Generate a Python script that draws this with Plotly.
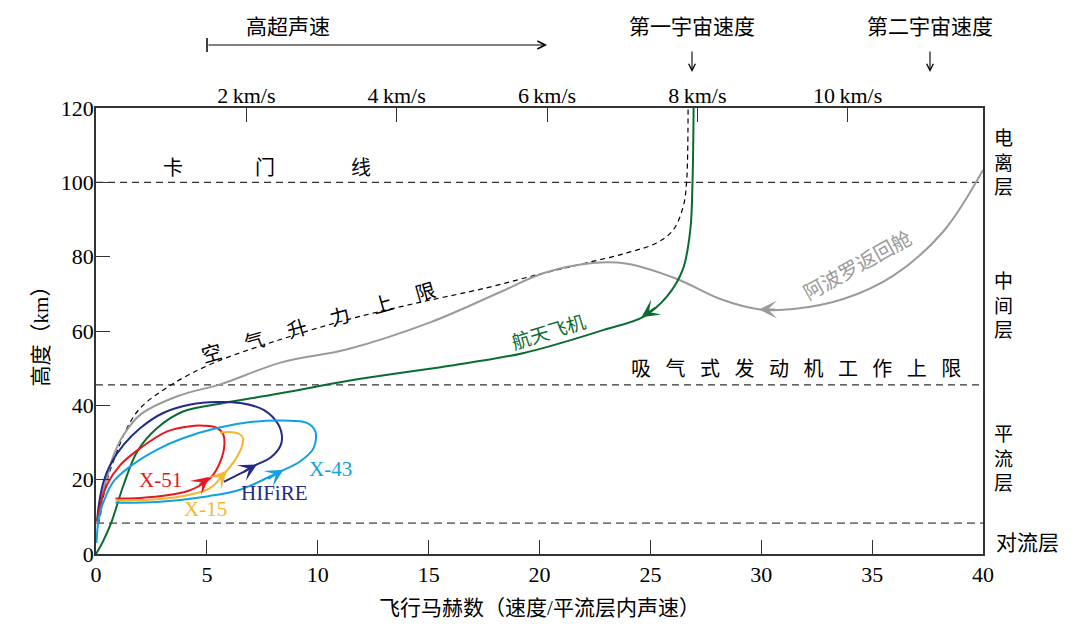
import plotly.graph_objects as go

# ---- values (x: flight Mach number, y: altitude km) ----
SOUND_SPEED = 0.295          # km/s, speed of sound in the stratosphere
top_ticks_kms = [2, 4, 6, 8, 10]

layer_alts = [100, 45.5, 8.3]   # Karman line, air-breathing limit, tropopause

shuttle_mach = [0, 0.3, 0.68, 1.25, 1.86, 2.76, 3.95, 5.76, 8.0, 12.0, 15.8, 19.3,
                22.9, 24.7, 25.75, 26.46, 26.8, 26.9, 26.95]
shuttle_alt = [0, 3.2, 8.3, 18.7, 27.6, 33.9, 38.4, 40.6, 42.9, 47.2, 50.5, 54.1,
               60.3, 63.9, 69.3, 76.5, 87.2, 100, 120]

apollo_mach = [0.05, 0.2, 0.58, 0.8, 1.25, 2.0, 3.7, 5.63, 8.33, 11.34, 15.1, 18.24,
               20.2, 22.4, 23.95, 26.2, 28.15, 29.95, 31.45, 33.7, 35.96, 38.2, 40]
apollo_alt = [8, 14, 22.3, 26.7, 32.1, 37.5, 42.5, 45.7, 51.5, 55.1, 62.4, 70.5,
              75.6, 78.3, 78.1, 74, 68.6, 65.8, 65.9, 68.6, 74.9, 86.7, 103.3]

lift_mach = [0.1, 0.2, 0.35, 0.58, 0.95, 1.4, 2.0, 3.36, 5.3, 8.31, 11.3, 14.3, 17.6,
             20.2, 22.1, 23.93, 25.28, 26.03, 26.48, 26.63, 26.7]
lift_alt = [8, 10.6, 16, 21.4, 27.6, 33.9, 39.3, 45.4, 51.4, 57.7, 63, 67.3, 71.6,
            75.6, 78.3, 81, 83.7, 87.2, 93.5, 99.8, 120]

x51_mach = [0.88, 2.0, 3.21, 4.11, 4.71, 5.23, 5.61, 5.79, 5.73, 5.46, 4.86, 4.26,
            3.21, 2.0, 1.1, 0.5, 0.2, 0.05]
x51_alt = [14.9, 15.1, 15.8, 16.9, 18.5, 20.9, 24.9, 29.4, 32.3, 33.9, 34.5, 34.4,
           33.0, 28.5, 24.0, 18.7, 13.3, 8.8]

x15_mach = [0.88, 2.76, 4.26, 5.16, 5.68, 6.28, 6.58, 6.63, 6.43, 6.06, 5.61]
x15_alt = [14.4, 14.7, 16.0, 17.8, 20.9, 25.4, 29.0, 31.2, 32.4, 32.8, 32.7]

hifire_mach = [5.76, 6.5, 7.26, 7.86, 8.31, 8.39, 8.23, 7.56, 6.51, 5.46, 4.26, 3.05,
               2.0, 1.25, 0.65, 0.35, 0.13, 0.05]
hifire_alt = [19.4, 21.6, 24.1, 25.9, 29.0, 31.2, 34.8, 38.8, 40.6, 40.9, 40.2, 38.0,
              33.9, 29.4, 24.1, 19.6, 13.3, 8.8]

x43_mach = [0.88, 2.76, 5.0, 6.5, 8.16, 9.2, 9.81, 9.89, 9.51, 8.46, 6.96, 5.46,
            3.95, 2.76, 1.55, 0.8, 0.35, 0.13, 0.02]
x43_alt = [13.8, 14.0, 15.5, 17.3, 21.8, 24.9, 28.5, 33, 35.3, 35.9, 35.5, 33.9,
           31.2, 28.1, 23.6, 19.6, 14.2, 9.7, 3]

# arrowheads: (curve, tip mach, tip alt, tail mach, tail alt)
arrow_marks = [
    ("shuttle", 24.6, 63.7, 25.3, 66.6),
    ("apollo", 29.9, 65.8, 30.7, 65.8),
    ("x51", 5.12, 20.8, 4.6, 18.3),
    ("x15", 5.9, 22.4, 5.5, 19.9),
    ("hifire", 7.26, 24.1, 6.6, 21.9),
    ("x43", 8.46, 22.7, 7.7, 20.0),
]

RED, ORANGE, NAVY, LBLUE = "#e6171e", "#f6b62d", "#232a88", "#12a0e2"
GREEN, GRAY = "#0b6b30", "#9a9a9a"
colors = {"shuttle": GREEN, "apollo": GRAY, "x51": RED, "x15": ORANGE,
          "hifire": NAVY, "x43": LBLUE}

SERIF = "Liberation Serif, Noto Sans CJK SC"
CJK = "Noto Sans CJK SC"

W, H = 1080, 638
ML, MR, MT, MB = 96, 97, 108, 84
PW, PH = W - ML - MR, H - MT - MB


def pxx(p):
    return (p - ML) / PW


def pxy(p):
    return (H - MB - p) / PH


fig = go.Figure()

fig.add_trace(go.Scatter(x=lift_mach, y=lift_alt, mode="lines", line_shape="spline",
                         line=dict(color="black", width=1.2, dash="5px,4px")))
fig.add_trace(go.Scatter(x=apollo_mach, y=apollo_alt, mode="lines", line_shape="spline",
                         line=dict(color=GRAY, width=2)))
fig.add_trace(go.Scatter(x=shuttle_mach, y=shuttle_alt, mode="lines", line_shape="spline",
                         line=dict(color=GREEN, width=2)))
for mx, al, key in [(hifire_mach, hifire_alt, "hifire"), (x51_mach, x51_alt, "x51"),
                    (x15_mach, x15_alt, "x15"), (x43_mach, x43_alt, "x43")]:
    fig.add_trace(go.Scatter(x=mx, y=al, mode="lines", line_shape="spline",
                             line=dict(color=colors[key], width=2)))
# dummy trace so the km/s axis is drawn
fig.add_trace(go.Scatter(x=[], y=[], xaxis="x2"))

shapes = []
for alt, col, wd, ds in zip(layer_alts, ["#333", "#333", "#777"], [1.1, 1.1, 1.8],
                            ["7px,5px", "7px,5px", "8px,5px"]):
    shapes.append(dict(type="line", xref="paper", yref="y", x0=0, x1=1, y0=alt, y1=alt,
                       line=dict(color=col, width=wd, dash=ds), layer="below"))
# hypersonic range bar (start tick)
shapes.append(dict(type="line", xref="paper", yref="paper", x0=pxx(207), x1=pxx(207),
                   y0=pxy(38), y1=pxy(52), line=dict(color="black", width=1.5)))

ann = []


def label(x, y, text, size=20, color="black", family=CJK, ref="paper", angle=0):
    ann.append(dict(x=x, y=y, xref=ref, yref=ref if ref == "paper" else "y", text=text,
                    showarrow=False, xanchor="center", yanchor="middle", textangle=angle,
                    font=dict(family=family, size=size, color=color)))


for key, tx, ty, sx, sy in arrow_marks:
    ann.append(dict(x=tx, y=ty, ax=sx, ay=sy, xref="x", yref="y", axref="x", ayref="y",
                    text="", showarrow=True, arrowhead=3, arrowsize=1.5, arrowwidth=2,
                    arrowcolor=colors[key], standoff=0))

# top annotations
ann.append(dict(x=pxx(547), y=pxy(45), xref="paper", yref="paper", ax=-340, ay=0,
                text="", showarrow=True, arrowhead=5, arrowsize=1.3, arrowwidth=1.2,
                arrowcolor="black"))
label(pxx(288), pxy(25), "高超声速", size=21)
for cx, txt in [(692, "第一宇宙速度"), (930, "第二宇宙速度")]:
    label(pxx(cx), pxy(25), txt, size=21)
    ann.append(dict(x=pxx(cx), y=pxy(72), xref="paper", yref="paper", ax=0, ay=-22,
                    text="", showarrow=True, arrowhead=5, arrowsize=1.2, arrowwidth=1.1,
                    arrowcolor="black"))

# in-plot labels
for ch, cx in zip("卡门线", [3.49, 7.64, 11.95]):
    label(cx, 104.2, ch, ref="x")
label(10.0, 62.5, "\u3000 ".join("空气升力上限"), ref="x", angle=-16)
label(31.57, 50.05, "\u2002 ".join("吸气式发动机工作上限"), ref="x")
label(20.4, 60.2, "航天飞机", size=19, color=GREEN, ref="x", angle=-17)
label(34.3, 77.8, "阿波罗返回舱", color=GRAY, ref="x", angle=-29)
for txt, cx, cy, col in [("X-51", 2.9, 19.8, RED), ("X-15", 4.96, 12.0, ORANGE),
                         ("HIFiRE", 8.04, 16.4, NAVY), ("X-43", 10.56, 22.8, LBLUE)]:
    label(cx, cy, txt, size=21, color=col, family=SERIF, ref="x")

# atmosphere layers on the right
for word, yc in [("电离层", 161), ("中间层", 304), ("平流层", 457)]:
    label(pxx(1003), pxy(yc), "<br>".join(word), size=19)
label(pxx(1027), pxy(541), "对流层", size=21)

axis_common = dict(showgrid=False, zeroline=False, ticks="inside", ticklen=14,
                   tickwidth=1.2, tickcolor="#333", automargin=False,
                   tickfont=dict(family=SERIF, size=22, color="black"))

fig.update_layout(
    width=W, height=H,
    margin=dict(l=ML, r=MR, t=MT, b=MB),
    paper_bgcolor="white", plot_bgcolor="white",
    showlegend=False,
    xaxis=dict(range=[0, 40], tickvals=[0, 5, 10, 15, 20, 25, 30, 35, 40],
               showline=True, linecolor="#333", linewidth=1.5, mirror=True,
               title=dict(text="飞行马赫数（速度/平流层内声速）", standoff=14,
                          font=dict(family=SERIF, size=21, color="black")),
               **axis_common),
    xaxis2=dict(range=[0, 40 * SOUND_SPEED], overlaying="x", side="top", anchor="y",
                tickvals=top_ticks_kms,
                ticktext=[f"{v}\u2009km/s" for v in top_ticks_kms],
                showline=False, **axis_common),
    yaxis=dict(range=[0, 120], tickvals=[0, 20, 40, 60, 80, 100, 120],
               showline=True, linecolor="#333", linewidth=1.5, mirror=True,
               ticklabelstandoff=-4,
               title=dict(text="高度（km）", standoff=6,
                          font=dict(family=SERIF, size=21, color="black")),
               **axis_common),
    shapes=shapes,
    annotations=ann,
)

fig.write_html("out.html", config={"displayModeBar": False},
               post_script="document.body.style.margin='0';")
